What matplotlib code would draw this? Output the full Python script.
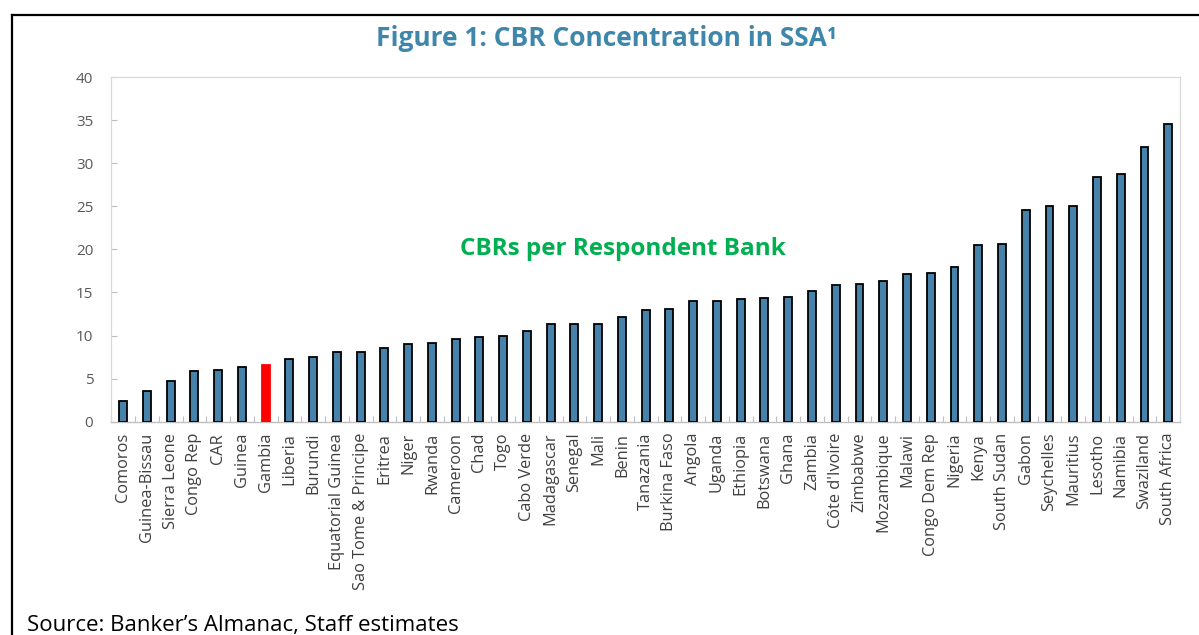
import matplotlib
matplotlib.use("Agg")
import matplotlib.pyplot as plt
from matplotlib.lines import Line2D
import numpy as np

countries = [
    "Comoros", "Guinea-Bissau", "Sierra Leone", "Congo Rep", "CAR", "Guinea",
    "Gambia", "Liberia", "Burundi", "Equatorial Guinea", "Sao Tome & Principe",
    "Eritrea", "Niger", "Rwanda", "Cameroon", "Chad", "Togo", "Cabo Verde",
    "Madagascar", "Senegal", "Mali", "Benin", "Tanazania", "Burkina Faso",
    "Angola", "Uganda", "Ethiopia", "Botswana", "Ghana", "Zambia",
    "Côte d'Ivoire", "Zimbabwe", "Mozambique", "Malawi", "Congo Dem Rep",
    "Nigeria", "Kenya", "South Sudan", "Gabon", "Seychelles", "Mauritius",
    "Lesotho", "Namibia", "Swaziland", "South Africa",
]
cbrs_per_bank = [
    2.4, 3.6, 4.7, 5.9, 6.0, 6.3,
    6.6, 7.3, 7.5, 8.1, 8.1,
    8.5, 9.0, 9.1, 9.6, 9.8, 9.9, 10.5,
    11.3, 11.3, 11.3, 12.2, 13.0, 13.1,
    14.0, 14.0, 14.2, 14.4, 14.5, 15.2,
    15.9, 16.0, 16.3, 17.1, 17.3,
    17.9, 20.5, 20.6, 24.6, 25.0, 25.0,
    28.4, 28.7, 31.9, 34.5,
]
highlight = "Gambia"
y_ticks = [0, 5, 10, 15, 20, 25, 30, 35, 40]

BAR_BLUE = "#4682a9"
TITLE_BLUE = "#3f86ab"
GREEN = "#00b050"
FONT = ["Open Sans", "DejaVu Sans"]

plt.rcParams["font.family"] = FONT

fig = plt.figure(figsize=(11.99, 6.35), dpi=100)
ax = fig.add_axes([0.0928, 0.3359, 0.8914, 0.5428])

x = np.arange(len(countries))
colors = ["red" if c == highlight else BAR_BLUE for c in countries]
edges = ["red" if c == highlight else "black" for c in countries]
ax.bar(x, cbrs_per_bank, width=0.33, color=colors, edgecolor=edges,
       linewidth=1.3, zorder=3)

ax.set_xlim(-0.5, len(countries) - 0.5)
ax.set_ylim(0, 40)
ax.set_yticks(y_ticks)
ax.set_yticklabels([str(t) for t in y_ticks], color="#595959", fontsize=11)
ax.set_xticks(x)
ax.set_xticklabels(countries, rotation=90, color="#404040", fontsize=11.8)
ax.set_xticks(np.arange(-0.5, len(countries)), minor=True)

ax.tick_params(axis="x", which="major", length=0, pad=8)
ax.tick_params(axis="x", which="minor", direction="in", length=4.5,
               color="#bfbfbf", width=0.8)
ax.tick_params(axis="y", direction="in", length=4.5, color="#bfbfbf",
               width=0.8, pad=13)

for side in ["top", "right", "left"]:
    ax.spines[side].set_color("#d9d9d9")
    ax.spines[side].set_linewidth(0.9)
ax.spines["bottom"].set_color("#bfbfbf")
ax.spines["bottom"].set_linewidth(1.0)

fig.text(0.506, 0.939, "Figure 1: CBR Concentration in SSA¹", ha="center",
         va="center", fontsize=19, fontweight="bold", color=TITLE_BLUE)
fig.text(0.5196, 0.6079, "CBRs per Respondent Bank", ha="center", va="center",
         fontsize=17.5, fontweight="bold", color=GREEN)
fig.text(0.0225, 0.0157, "Source: Banker’s Almanac, Staff estimates",
         ha="left", va="center", fontsize=16, color="black")

# frame around the exhibit (left and top edges)
W, H = 1199, 635
fig.add_artist(Line2D([12 / W, 12 / W], [0, 1 - 15 / H], color="black",
                      linewidth=1.6, transform=fig.transFigure))
fig.add_artist(Line2D([11.5 / W, 1], [1 - 15 / H, 1 - 15 / H], color="black",
                      linewidth=1.6, transform=fig.transFigure))

fig.savefig("out.png", dpi=100)
